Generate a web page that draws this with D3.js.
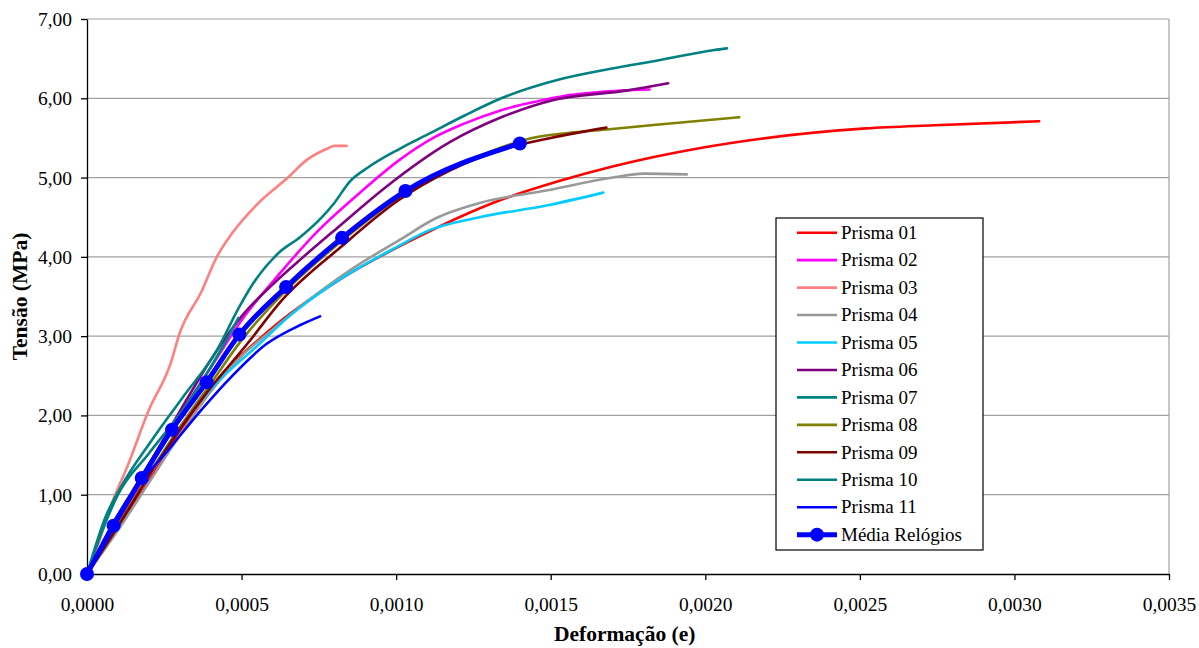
<!DOCTYPE html>
<html>
<head>
<meta charset="utf-8">
<script src="https://cdn.jsdelivr.net/npm/d3@7"></script>
<style>
  body { margin: 0; background: #fff; }
  text { font-family: "Liberation Serif", "Times New Roman", serif; fill: #000; }
</style>
</head>
<body>
<script>
// strain (e) vs stress (MPa)
var names = ["Prisma 01", "Prisma 02", "Prisma 03", "Prisma 04", "Prisma 05", "Prisma 06",
  "Prisma 07", "Prisma 08", "Prisma 09", "Prisma 10", "Prisma 11", "Média Relógios"];
var colors = ["#ff0000", "#ff00ff", "#ff8080", "#999999", "#00ccff", "#800080",
  "#008080", "#808000", "#800000", "#008080", "#0000ff", "#0000ff"];

var prisma01 = [[0,0],[0.00009,0.52],[0.00018,1.05],[0.00027,1.6],[0.0004,2.35],[0.00058,3.04],[0.00082,3.72],[0.00105,4.21],[0.00134,4.72],[0.00153,4.96],[0.0017,5.14],[0.00198,5.37],[0.00218,5.49],[0.00252,5.62],[0.00274,5.66],[0.00308,5.71]];
var prisma02 = [[0,0],[0.0001,0.65],[0.0002,1.32],[0.0003,2.0],[0.0004,2.6],[0.0005,3.2],[0.00063,3.82],[0.00074,4.3],[0.00088,4.8],[0.00101,5.22],[0.00112,5.5],[0.00122,5.68],[0.00134,5.85],[0.00148,5.98],[0.00156,6.04],[0.00166,6.08],[0.00182,6.11]];
var prisma03 = [[0,0],[0.00004,0.42],[0.000084,0.93],[0.00013,1.35],[0.0002,2.07],[0.00027,2.65],[0.0003,3.04],[0.00037,3.56],[0.00042,4.0],[0.00047,4.3],[0.00056,4.7],[0.00065,5.0],[0.00071,5.22],[0.00078,5.37],[0.0008,5.40],[0.00084,5.40]];
var prisma04 = [[0,0],[0.0001,0.55],[0.0002,1.15],[0.0003,1.75],[0.0004,2.3],[0.0005,2.75],[0.0006,3.08],[0.00069,3.37],[0.00085,3.83],[0.00101,4.21],[0.00113,4.49],[0.00127,4.68],[0.00149,4.84],[0.0017,5.0],[0.0018,5.05],[0.00194,5.04]];
var prisma05 = [[0,0],[0.0001,0.6],[0.0002,1.25],[0.00031,1.9],[0.00042,2.41],[0.00056,2.91],[0.00063,3.17],[0.0008,3.67],[0.001,4.12],[0.00111,4.34],[0.00127,4.5],[0.00149,4.65],[0.00167,4.81]];
var prisma06 = [[0,0],[0.0001,0.7],[0.0002,1.38],[0.0003,2.05],[0.0004,2.7],[0.0005,3.25],[0.0006,3.65],[0.0007,4.0],[0.00082,4.4],[0.00096,4.86],[0.001175,5.45],[0.00134,5.76],[0.0015,5.97],[0.00175,6.10],[0.00188,6.19]];
var prisma07 = [[0,0],[0.00006,0.72],[0.00011,1.1],[0.00021,1.69],[0.00031,2.23],[0.00042,2.82],[0.00049,3.35],[0.00053,3.62],[0.00062,4.05],[0.00069,4.25],[0.00076,4.5],[0.0008,4.68],[0.00085,4.95],[0.00091,5.13],[0.00101,5.36],[0.00111,5.56],[0.00122,5.78],[0.00134,6.0],[0.00153,6.24],[0.00169,6.37],[0.00185,6.48],[0.00203,6.61],[0.00207,6.63]];
var prisma08 = [[0,0],[0.0001,0.62],[0.0002,1.25],[0.0003,1.85],[0.0004,2.4],[0.0005,2.95],[0.00065,3.6],[0.00083,4.22],[0.00104,4.83],[0.0012,5.15],[0.00134,5.38],[0.00144,5.5],[0.00155,5.56],[0.00169,5.61],[0.00185,5.67],[0.00211,5.76]];
var prisma09 = [[0,0],[0.0001,0.6],[0.00024,1.48],[0.00038,2.25],[0.00052,2.91],[0.00063,3.45],[0.00082,4.12],[0.00101,4.72],[0.001175,5.09],[0.00134,5.35],[0.0015,5.5],[0.00168,5.63]];
var prisma10 = [[0,0],[0.00005,0.55],[0.0001,1.0],[0.0002,1.52],[0.00031,2.07],[0.00042,2.74],[0.00049,3.23]];
var prisma11 = [[0,0],[0.000075,0.58],[0.00015,1.05],[0.00026,1.55],[0.00037,2.07],[0.00047,2.5],[0.00058,2.9],[0.00069,3.14],[0.000754,3.25]];
var media = [[0,0],[0.000086,0.61],[0.000177,1.21],[0.000275,1.82],[0.000387,2.42],[0.000493,3.02],[0.000644,3.62],[0.000825,4.24],[0.00103,4.83],[0.0014,5.43]];

var series = [prisma01, prisma02, prisma03, prisma04, prisma05, prisma06,
  prisma07, prisma08, prisma09, prisma10, prisma11, media];

var xTicks = [0, 0.0005, 0.001, 0.0015, 0.002, 0.0025, 0.003, 0.0035];
var yTicks = [0, 1, 2, 3, 4, 5, 6, 7];

var W = 1199, H = 648;
var margin = {top: 19, right: 30, bottom: 74, left: 87};
var width = W - margin.left - margin.right,
    height = H - margin.top - margin.bottom;

var x = d3.scaleLinear().domain([0, 0.0035]).range([0, width]);
var y = d3.scaleLinear().domain([0, 7]).range([height, 0]);

var comma = function(n, d) { return n.toFixed(d).replace(".", ","); };

var svg = d3.select("body").append("svg")
  .attr("width", W)
  .attr("height", H);

var g = svg.append("g")
  .attr("transform", "translate(" + margin.left + "," + margin.top + ")");

// grid
g.selectAll(".grid").data(yTicks.slice(1)).enter().append("line")
  .attr("x1", 0).attr("x2", width)
  .attr("y1", function(d) { return y(d); })
  .attr("y2", function(d) { return y(d); })
  .attr("stroke", "#a0a0a0").attr("stroke-width", 1.2);

g.append("line")
  .attr("x1", width).attr("x2", width).attr("y1", 0).attr("y2", height)
  .attr("stroke", "#a0a0a0").attr("stroke-width", 1.2);

// axes
var xAxis = d3.axisBottom(x).tickValues(xTicks).tickSize(6).tickSizeOuter(0)
  .tickFormat(function(d) { return comma(d, 4); });
var yAxis = d3.axisLeft(y).tickValues(yTicks).tickSize(6).tickSizeOuter(0)
  .tickFormat(function(d) { return comma(d, 2); });

var gx = g.append("g").attr("transform", "translate(0," + height + ")").call(xAxis);
var gy = g.append("g").call(yAxis);
[gx, gy].forEach(function(a) {
  a.select(".domain").attr("stroke", "#000").attr("stroke-width", 1.3);
  a.selectAll(".tick line").attr("stroke", "#000").attr("stroke-width", 1.3);
  a.selectAll("text").style("font-family", "Liberation Serif").style("font-size", "19.5px").attr("fill", "#000");
});
gx.selectAll("text").attr("dy", 0).attr("y", 37);
gy.selectAll("text").attr("x", -15).attr("dy", "0.33em");

// lines
var line = d3.line()
  .x(function(d) { return x(d[0]); })
  .y(function(d) { return y(d[1]); })
  .curve(d3.curveMonotoneX);

series.forEach(function(s, i) {
  g.append("path")
    .datum(s)
    .attr("fill", "none")
    .attr("stroke", colors[i])
    .attr("stroke-width", i == 11 ? 5 : 2.6)
    .attr("stroke-linecap", "round")
    .attr("stroke-linejoin", "round")
    .attr("d", line);
});

g.selectAll(".dot").data(media).enter().append("circle")
  .attr("cx", function(d) { return x(d[0]); })
  .attr("cy", function(d) { return y(d[1]); })
  .attr("r", 7)
  .attr("fill", "#0000ff");

// axis titles
svg.append("text")
  .attr("x", margin.left + width * 0.4969).attr("y", 641)
  .attr("text-anchor", "middle")
  .style("font-weight", "bold").style("font-size", "21.5px")
  .text("Deformação (e)");

svg.append("text")
  .attr("transform", "translate(27," + (margin.top + height / 2) + ") rotate(-90)")
  .attr("text-anchor", "middle")
  .style("font-weight", "bold").style("font-size", "21.5px")
  .text("Tensão (MPa)");

// legend
var legend = svg.append("g").attr("transform", "translate(776,218)");
legend.append("rect")
  .attr("width", 207).attr("height", 332)
  .attr("fill", "#fff").attr("stroke", "#000").attr("stroke-width", 1.2);

var rows = legend.selectAll(".row").data(names).enter().append("g")
  .attr("transform", function(d, i) { return "translate(0," + (14.7 + i * 27.45) + ")"; });

rows.append("line")
  .attr("x1", 21).attr("x2", 61)
  .attr("stroke", function(d, i) { return colors[i]; })
  .attr("stroke-width", function(d, i) { return i == 11 ? 5 : 2.6; });

rows.filter(function(d, i) { return i == 11; }).append("circle")
  .attr("cx", 41).attr("r", 7).attr("fill", "#0000ff");

rows.append("text")
  .attr("x", 65).attr("dy", "0.33em")
  .style("font-size", "19px")
  .text(function(d) { return d; });
</script>
</body>
</html>
